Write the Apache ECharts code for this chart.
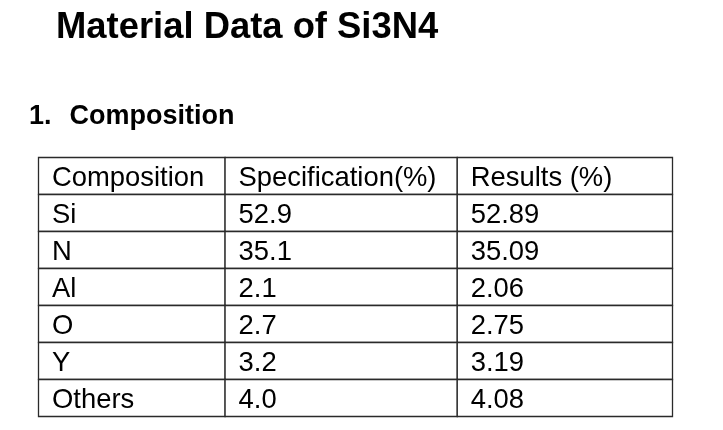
<!DOCTYPE html>
<html>
<head>
<meta charset="utf-8">
<script src="https://cdn.jsdelivr.net/npm/echarts@6/dist/echarts.min.js"></script>
<style>
html,body{margin:0;padding:0;background:#fff;}
#chart{width:723px;height:430px;}
</style>
</head>
<body>
<div id="chart"></div>
<script>
// ---- Data ----
const pageTitle = 'Material Data of Si3N4';
const sectionNumber = '1.';
const sectionTitle = 'Composition';
const columns = ['Composition', 'Specification(%)', 'Results (%)'];
const elements = ['Si', 'N', 'Al', 'O', 'Y', 'Others'];
const specification = [52.9, 35.1, 2.1, 2.7, 3.2, 4.0];
const results = [52.89, 35.09, 2.06, 2.75, 3.19, 4.08];

// ---- Layout (relative column edges on the x axis) ----
const colEdges = [0, 0.2943, 0.6605, 1];
const FONT = 'Liberation Sans, Arial, sans-serif';

const cells = [];
columns.forEach((c, i) => cells.push([i, 0, c]));
elements.forEach((e, r) => {
  cells.push([0, r + 1, e]);
  cells.push([1, r + 1, specification[r].toFixed(1)]);
  cells.push([2, r + 1, results[r].toFixed(2)]);
});
const rowCount = elements.length + 1;

const chart = echarts.init(document.getElementById('chart'), null, {renderer: 'canvas'});
chart.setOption({
  animation: false,
  backgroundColor: '#fff',
  title: [
    {text: pageTitle, left: 56, top: 10, padding: 0,
     textStyle: {fontSize: 36.4, fontWeight: 'bold', fontFamily: FONT, color: '#000'}},
    {text: sectionNumber, left: 29, top: 103, padding: 0,
     textStyle: {fontSize: 27, fontWeight: 'bold', fontFamily: FONT, color: '#000'}},
    {text: sectionTitle, left: 69.5, top: 103, padding: 0,
     textStyle: {fontSize: 27, fontWeight: 'bold', fontFamily: FONT, color: '#000'}}
  ],
  grid: {left: 38.5, right: 50.5, top: 157.5, bottom: 13.5},
  xAxis: {type: 'value', min: 0, max: 1, show: false},
  yAxis: {type: 'value', min: 0, max: rowCount, inverse: true, show: false},
  series: [{
    type: 'custom',
    data: cells,
    renderItem: function (params, api) {
      const c = api.value(0), r = api.value(1);
      const text = cells[params.dataIndex][2];
      const p0 = api.coord([colEdges[c], r]);
      const p1 = api.coord([colEdges[c + 1], r + 1]);
      return {
        type: 'group',
        children: [
          {type: 'rect',
           shape: {x: p0[0], y: p0[1], width: p1[0] - p0[0], height: p1[1] - p0[1]},
           style: {fill: '#fff', stroke: '#2a2a2a', lineWidth: 1.3}},
          {type: 'text', x: p0[0] + 13.5, y: (p0[1] + p1[1]) / 2 + 2,
           style: {text: text, fontSize: 27.4, fontFamily: FONT, fill: '#000',
                   align: 'left', verticalAlign: 'middle'}}
        ]
      };
    }
  }]
});
</script>
</body>
</html>
